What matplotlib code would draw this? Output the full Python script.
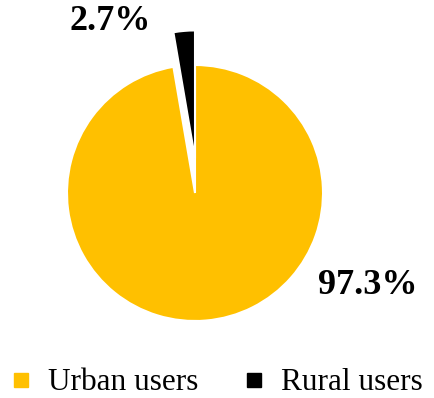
import matplotlib.pyplot as plt
from matplotlib.lines import Line2D

# data
labels = ['Urban users', 'Rural users']
shares = [97.3, 2.7]
colors = ['#FFC000', '#000000']
label_text = ['97.3%', '2.7%']

plt.rcParams['font.family'] = 'Liberation Serif'

fig = plt.figure(figsize=(4.34, 3.98), dpi=100)
# pie centre ~ (195, 192) px, radius ~128 px
ax = fig.add_axes([67 / 434, (398 - 193 - 128) / 398, 256 / 434, 256 / 398])
wedges, _ = ax.pie(shares, colors=colors, startangle=90, counterclock=False,
                   wedgeprops=dict(edgecolor='white', linewidth=1.5),
                   radius=1.0)
# rural slice pulled straight up
wedges[1].set_center((0, 0.27))
ax.set_xlim(-1, 1)
ax.set_ylim(-1, 1)
ax.set_aspect('equal')
ax.axis('off')
for p in ax.patches:
    p.set_clip_on(False)

fig.text(368 / 434, 1 - 286 / 398, label_text[0], fontsize=26, fontweight='bold',
         ha='center', va='center')
fig.text(110 / 434, 1 - 21 / 398, label_text[1], fontsize=26, fontweight='bold',
         ha='center', va='center')

handles = [Line2D([], [], marker='s', linestyle='none', markersize=10,
                  markerfacecolor=c, markeredgecolor=c) for c in colors]
fig.legend(handles, labels, loc='center', bbox_to_anchor=(0.497, 1 - 383 / 398),
           ncol=2, frameon=False, fontsize=22.5, handletextpad=0.45,
           columnspacing=1.4, handlelength=0.8)

fig.savefig('out.png', dpi=100)
